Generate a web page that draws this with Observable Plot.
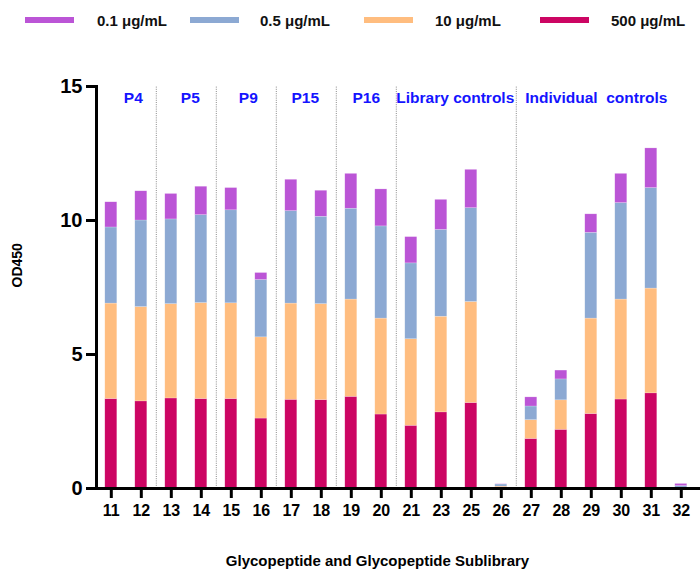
<!DOCTYPE html>
<html><head><meta charset="utf-8">
<script src="https://cdn.jsdelivr.net/npm/d3@7"></script>
<script src="https://cdn.jsdelivr.net/npm/@observablehq/plot@0.6"></script>
<style>
body{margin:0;background:#fff;font-family:"Liberation Sans",Arial,sans-serif;}
#legend{position:relative;height:40px;width:700px;}
.sw{position:absolute;top:17px;height:6px;width:49px;}
.lt{position:absolute;top:12px;font-weight:bold;font-size:15px;line-height:18px;color:#111;white-space:pre;}
</style></head><body>
<div id="legend"></div><div id="chart"></div>
<script>
const categories = ["11","12","13","14","15","16","17","18","19","20","21","23","25","26","27","28","29","30","31","32"];
const seriesNames = ["500 μg/mL","10 μg/mL","0.5 μg/mL","0.1 μg/mL"];
const seriesColors = ["#CC0563","#FFBD7F","#8CA9D3","#BB55D6"];
const od500 = [3.34,3.25,3.36,3.34,3.34,2.61,3.31,3.30,3.42,2.76,2.34,2.84,3.19,0.02,1.85,2.19,2.78,3.32,3.55,0.01];
const od10  = [3.56,3.52,3.52,3.58,3.57,3.03,3.59,3.58,3.63,3.58,3.23,3.57,3.77,0.05,0.70,1.10,3.56,3.73,3.91,0.02];
const od05  = [2.84,3.23,3.16,3.28,3.47,2.14,3.45,3.26,3.39,3.44,2.83,3.24,3.50,0.08,0.51,0.78,3.20,3.60,3.75,0.06];
const od01  = [0.94,1.09,0.95,1.06,0.83,0.26,1.17,0.97,1.30,1.38,0.98,1.12,1.43,0.01,0.34,0.33,0.69,1.09,1.48,0.08];
const groupLabels = ["P4","P5","P9","P15","P16","Library controls","Individual  controls"];
const groupFirst = ["11","13","15","17","19","21","27"];
const groupDx = [22,19,17,14,15,44,65];
const yTicks = [0,5,10,15];

// legend (order left to right: 0.1, 0.5, 10, 500)
const legendOrder = [3,2,1,0];
const legendSwatchLeft = [25,190,364,540];
const legendTextLeft = [97,260,435,611];
const leg = document.getElementById("legend");
legendOrder.forEach((si, i) => {
  const s = document.createElement("div");
  s.className = "sw"; s.style.left = legendSwatchLeft[i] + "px"; s.style.background = seriesColors[si];
  leg.appendChild(s);
  const t = document.createElement("div");
  t.className = "lt"; t.style.left = legendTextLeft[i] + "px"; t.textContent = seriesNames[si];
  leg.appendChild(t);
});

const seriesValues = [od500, od10, od05, od01];
const rows = [];
categories.forEach((c, i) => {
  seriesValues.forEach((arr, si) => rows.push({cat: c, series: seriesNames[si], value: arr[i]}));
});

const groupMarks = groupLabels.map((g, i) =>
  Plot.text([g], {x: () => groupFirst[i], frameAnchor: "top", lineAnchor: "middle", dy: 12, dx: groupDx[i],
    text: d => d, fill: "#1414FF", fontSize: 15.5, fontWeight: "bold"}));

const plot = Plot.plot({
  width: 700, height: 531,
  marginTop: 46, marginBottom: 83, marginLeft: 96, marginRight: 0,
  style: {fontFamily: "'Liberation Sans', Arial, sans-serif", fontWeight: "bold", color: "#000", background: "#fff"},
  x: {domain: categories, paddingInner: 0.6, paddingOuter: 0.367, align: 0.4, round: false, label: null},
  y: {domain: [0, 15], label: null},
  color: {domain: seriesNames, range: seriesColors},
  marks: [
    Plot.ruleX(groupFirst.slice(1), {x: d => d, dx: -15, y1: 0, y2: 15, stroke: "#8a8a8a", strokeWidth: 1, strokeDasharray: "1,1.2"}),
    Plot.barY(rows, {x: "cat", y: "value", fill: "series", order: null, stroke: "#fff", strokeOpacity: 0.4, strokeWidth: 0.5}),
    ...groupMarks,
    Plot.axisY({ticks: yTicks, tickSize: 10, tickPadding: 4, strokeWidth: 3, fontSize: 20, label: null}),
    Plot.axisX({tickSize: 10, tickPadding: 6, strokeWidth: 3, fontSize: 16, label: null}),
    Plot.frame({anchor: "left", strokeWidth: 3}),
    Plot.ruleY([0], {strokeWidth: 3}),
    Plot.text(["OD450"], {frameAnchor: "left", dx: -79, rotate: -90, fontSize: 14, fontWeight: "bold"}),
    Plot.text(["Glycopeptide and Glycopeptide Sublibrary"], {frameAnchor: "bottom", lineAnchor: "middle", dy: 73, dx: -21, fontSize: 15, fontWeight: "bold"})
  ]
});
document.getElementById("chart").appendChild(plot);
</script>
</body></html>
